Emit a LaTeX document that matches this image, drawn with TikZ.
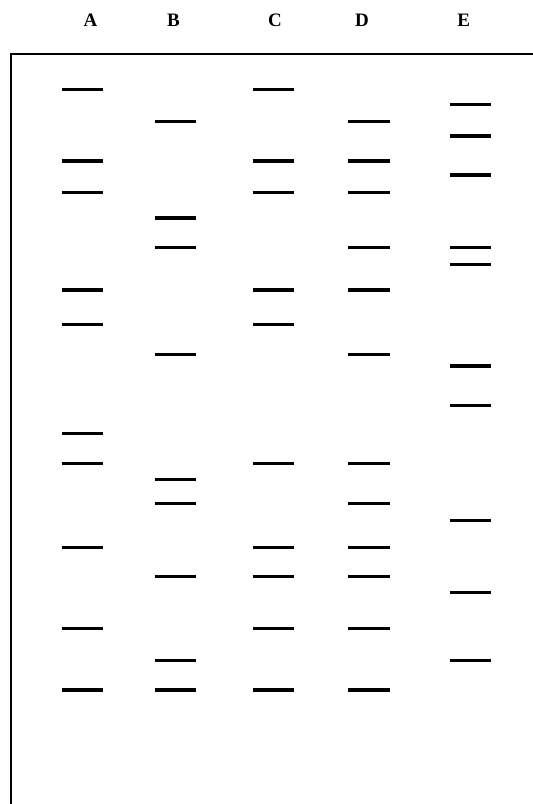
\documentclass[tikz,border=0pt]{standalone}
\usepackage{fontspec}
\setmainfont{Liberation Serif}
\tikzset{
  band/.style={line width=3.4pt},
  lanelbl/.style={font=\fontsize{19}{21}\selectfont\bfseries, inner sep=0pt, anchor=base},
  gelframe/.style={line width=2.2pt}
}

\begin{document}
\begin{tikzpicture}[x=1pt, y=-1pt]
  \useasboundingbox (0,0) rectangle (533,804);

  \node[lanelbl] (la) at (90.5,26) {A};
  \node[lanelbl] (lb) at (173.4,26) {B};
  \node[lanelbl] (lc) at (275,26) {C};
  \node[lanelbl] (ld) at (362,26) {D};
  \node[lanelbl] (le) at (463.7,26) {E};

  \draw[gelframe] (11,812) -- (11,54) -- (540,54);

  \foreach \y in {89.7,161,192.7,290,324.3,433.3,463.7,547.2,628.3,690}
    \draw[band] (61.5,\y) -- ++(41.5,0);
  \foreach \y in {121.3,218,247.3,354.3,479.3,503.3,576.3,660.7,690}
    \draw[band] (154.8,\y) -- ++(41.5,0);
  \foreach \y in {89.7,161,192.7,290,324.3,463.7,547.2,576.3,628.3,690}
    \draw[band] (252.7,\y) -- ++(41.5,0);
  \foreach \y in {121.3,161,192.7,247.3,290,354.3,463.7,503.3,547.2,576.3,628.3,690}
    \draw[band] (348,\y) -- ++(41.5,0);
  \foreach \y in {104.3,136,175,247.3,264.3,366,405.3,520.7,592.3,660.7}
    \draw[band] (449.5,\y) -- ++(41.5,0);
\end{tikzpicture}
\end{document}
